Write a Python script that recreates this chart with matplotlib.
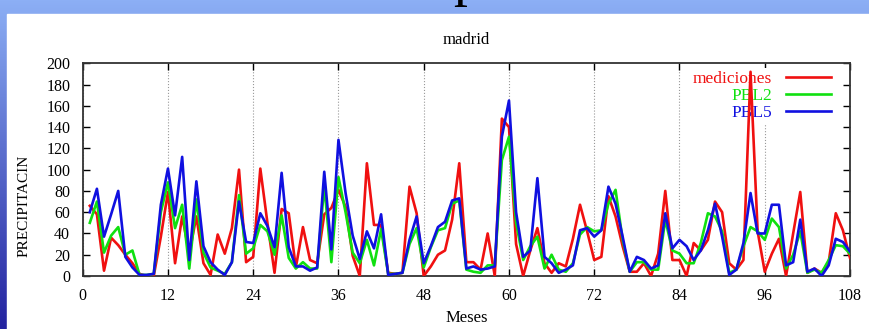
import numpy as np
import matplotlib
matplotlib.use('Agg')
import matplotlib.pyplot as plt

# datos mensuales (meses 1..108)
meses = np.arange(1, 109)
mediciones = [66, 58, 5, 36, 29, 20, 12, 2, 0, 0, 37, 79, 12, 56, 21, 56, 12, 1, 39, 21,
              45, 100, 13, 18, 101, 50, 3, 63, 59, 8, 46, 15, 12, 58, 64, 81, 65, 19, 0, 106,
              48, 48, 3, 2, 3, 84, 59, 0, 9, 20, 24, 53, 106, 13, 13, 6, 40, 0, 148, 140,
              30, 0, 24, 45, 12, 3, 12, 9, 35, 67, 42, 15, 18, 75, 56, 28, 4, 4, 12, 0,
              21, 80, 15, 15, 0, 31, 24, 34, 70, 60, 12, 6, 15, 192, 42, 4, 21, 35, 0, 40,
              79, 3, 7, 3, 13, 59, 43, 17]
pbl2 = [50, 70, 22, 38, 46, 20, 24, 1, 1, 2, 60, 88, 45, 67, 7, 72, 22, 8, 5, 2,
        13, 76, 21, 26, 48, 42, 20, 57, 17, 7, 13, 7, 7, 85, 13, 93, 60, 22, 12, 34,
        10, 44, 2, 2, 3, 30, 45, 8, 27, 43, 45, 68, 71, 6, 4, 3, 10, 10, 109, 131,
        50, 15, 28, 37, 7, 20, 6, 4, 12, 39, 46, 42, 43, 68, 81, 34, 4, 13, 13, 6,
        6, 53, 24, 21, 12, 12, 31, 59, 56, 42, 3, 6, 28, 46, 42, 34, 54, 46, 7, 20,
        42, 3, 6, 3, 15, 29, 28, 21]
pbl5 = [60, 82, 37, 58, 80, 18, 8, 1, 1, 2, 67, 101, 57, 112, 15, 89, 28, 13, 6, 1,
        13, 70, 32, 31, 59, 47, 27, 97, 27, 9, 9, 5, 8, 98, 25, 128, 78, 38, 16, 42,
        26, 58, 1, 2, 3, 34, 56, 12, 28, 46, 51, 71, 73, 7, 9, 6, 7, 9, 131, 165,
        60, 18, 24, 92, 18, 12, 3, 6, 10, 43, 45, 37, 43, 84, 68, 37, 4, 18, 15, 7,
        10, 59, 26, 34, 28, 15, 24, 43, 68, 37, 1, 6, 31, 78, 40, 40, 67, 67, 10, 13,
        53, 4, 7, 0, 10, 35, 32, 23]

xticks = np.arange(0, 109, 12)
yticks = np.arange(0, 201, 20)

plt.rcParams['font.family'] = ['Liberation Serif', 'DejaVu Serif']

fig = plt.figure(figsize=(8.69, 3.29), dpi=100)

# fondo de la diapositiva (degradado azul) y panel blanco
bg = fig.add_axes([0, 0, 1, 1])
t = np.linspace(0, 1, 200)[:, None]
top = np.array([140, 175, 245]) / 255
bot = np.array([35, 35, 160]) / 255
grad = top * (1 - t[..., None]) + bot * t[..., None]
grad = np.repeat(grad, 2, axis=1)
bg.imshow(grad, aspect='auto', extent=[0, 1, 0, 1])
bg.add_patch(plt.Rectangle((7 / 869, 0), 1, 1 - 14 / 329, color='white'))
bg.set_xlim(0, 1)
bg.set_ylim(0, 1)
bg.axis('off')
# resto del titulo de la diapositiva, cortado arriba
fig.text(0.537, 1 + 5 / 329, 'p', fontsize=40, va='baseline', ha='center')

ax = fig.add_axes([82.7 / 869, 1 - 276 / 329, (850 - 82.7) / 869, (276 - 63.3) / 329])
ax.plot(meses, mediciones, color='#f01010', lw=1.9, label='mediciones', zorder=3)
ax.plot(meses, pbl2, color='#10e010', lw=1.9, label='PBL2', zorder=3)
ax.plot(meses, pbl5, color='#1010e0', lw=1.9, label='PBL5', zorder=3)

ax.set_xlim(0, 108)
ax.set_ylim(0, 200)
ax.set_xticks(xticks)
ax.set_yticks(yticks)
ax.tick_params(direction='in', top=True, right=True, labelsize=11.5, length=5, width=1)
ax.tick_params(axis='x', pad=9)
ax.tick_params(axis='y', pad=9)
ax.xaxis.grid(True, linestyle=':', color='#999999', lw=0.8, zorder=0)
for s in ax.spines.values():
    s.set_linewidth(1.3)
    s.set_color('#333333')

ax.set_title('madrid', fontsize=12, pad=14)
ax.set_xlabel('Meses', fontsize=12, labelpad=4)
ax.set_ylabel('PRECIPITACIN', fontsize=11)
ax.yaxis.set_label_coords(-0.068, 0.33)

leg = ax.legend(loc='upper right', bbox_to_anchor=(0.9797, 0.979), markerfirst=False,
                frameon=True, fontsize=12.5, handlelength=2.6, labelspacing=0.05,
                borderpad=0.2, borderaxespad=0, handletextpad=0.8, fancybox=False)
leg.get_frame().set_edgecolor('none')
leg.get_frame().set_facecolor('white')
leg.get_frame().set_alpha(1)
leg.set_zorder(2)
for txt, ln in zip(leg.get_texts(), leg.get_lines()):
    txt.set_color(ln.get_color())

fig.savefig('out.png', dpi=100)
